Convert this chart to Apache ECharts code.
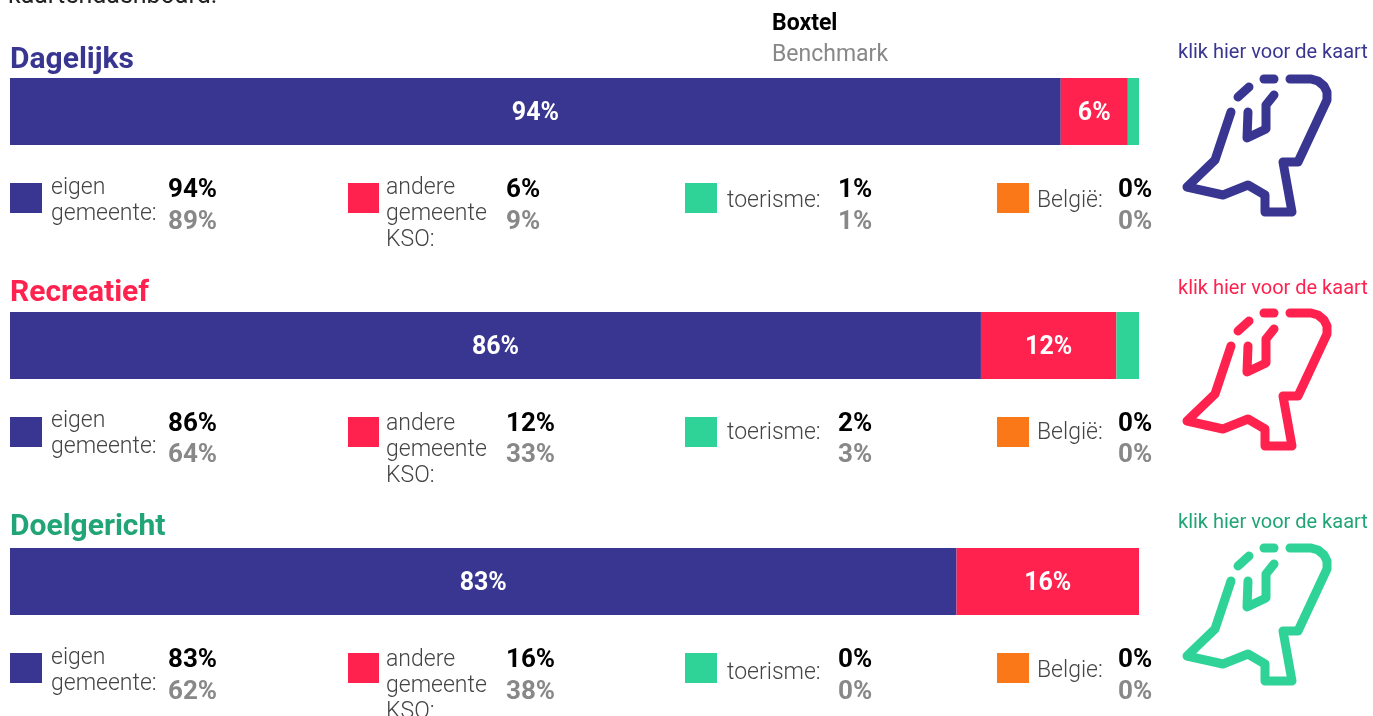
<!DOCTYPE html>
<html>
<head>
<meta charset="utf-8">
<title>Verplaatsingen</title>
<script src="https://cdn.jsdelivr.net/npm/echarts@6/dist/echarts.min.js"></script>
<style>
  html, body { margin: 0; padding: 0; background: #fff; }
  #main { width: 1373px; height: 716px; }
</style>
</head>
<body>
<div id="main"></div>
<script>
const segments = ["eigen gemeente", "andere gemeente KSO", "toerisme", "België"];
const rowNames = ["Dagelijks", "Recreatief", "Doelgericht"];

// boxtel = bar + black number, benchmark = grey number
const boxtelDagelijks = [94, 6, 1, 0];
const boxtelRecreatief = [86, 12, 2, 0];
const boxtelDoelgericht = [83, 16, 0, 0];
const benchDagelijks = [89, 9, 1, 0];
const benchRecreatief = [64, 33, 3, 0];
const benchDoelgericht = [62, 38, 0, 0];

const boxtel = [boxtelDagelijks, boxtelRecreatief, boxtelDoelgericht];
const bench = [benchDagelijks, benchRecreatief, benchDoelgericht];

const colors = ["#393691", "#FF224F", "#2FD398", "#FB7819"];
const titleColors = ["#393691", "#FF224F", "#21A576"];
const iconColors = ["#393691", "#FF224F", "#2FD398"];

const font = "Roboto";
const barTops = [78, 312, 548];
const titleY = [60, 293, 527];
const klikY = [53, 289, 523];
const iconDy = [0, 234, 469];

// legend layout per row
const swatchY = [183, 417, 653];
const swatchX = [10, 348, 685, 997];
const swatchW = [32, 31, 32, 32];
const labelX = [51, 386, 727, 1037];
const valueX = [168, 506, 838, 1118];
const labelLines = [
  [["eigen", "gemeente:"], ["andere", "gemeente", "KSO:"], ["toerisme:"], ["België:"]],
  [["eigen", "gemeente:"], ["andere", "gemeente", "KSO:"], ["toerisme:"], ["België:"]],
  [["eigen", "gemeente:"], ["andere", "gemeente", "KSO:"], ["toerisme:"], ["Belgie:"]]
];
const labelY = [
  [[188, 214], [188, 214, 240], [201], [201]],
  [[421, 447], [424, 450, 476], [433], [433]],
  [[658, 684], [660, 686, 712], [673], [671]]
];
const valueY = [[190, 222], [424, 455], [660, 692]];

// outline of the map icon
const iconLines = [
  [[1290, 79], [1311, 79], [1318, 81], [1324, 86], [1327, 92], [1327, 100], [1298, 162], [1283, 162], [1292, 212], [1265, 212], [1265, 195], [1248, 185], [1223, 195], [1187, 187], [1215, 160], [1231, 112]],
  [[1248, 112], [1247, 138], [1266, 129], [1266, 105], [1274, 95]],
  [[1238, 97], [1249, 87]],
  [[1264, 79], [1274, 79]]
];

function text(x, y, str, size, weight, color) {
  return {
    type: "text",
    x: x,
    y: y,
    style: {
      text: str,
      font: weight + " " + size + "px " + font,
      fill: color,
      verticalAlign: "middle",
      align: "left"
    }
  };
}

let grid = [];
let xAxis = [];
let yAxis = [];
let series = [];
let graphic = [];

graphic.push(text(8, -3, "kaartendashboard.", 25, 400, "#222"));
graphic.push(text(772, 24, "Boxtel", 23, 700, "#000"));
graphic.push(text(772, 55, "Benchmark", 23, 400, "#888"));

rowNames.forEach(function (name, r) {
  let total = boxtel[r].reduce(function (a, b) { return a + b; }, 0);
  grid.push({ left: 10, width: 1129, top: barTops[r], height: 67 });
  xAxis.push({ type: "value", gridIndex: r, min: 0, max: total, show: false });
  yAxis.push({ type: "category", gridIndex: r, data: [name], show: false });

  segments.forEach(function (seg, s) {
    series.push({
      name: seg,
      type: "bar",
      stack: name,
      xAxisIndex: r,
      yAxisIndex: r,
      barWidth: "100%",
      silent: true,
      itemStyle: { color: colors[s] },
      label: {
        show: boxtel[r][s] >= 5,
        position: "inside",
        offset: [0, 2],
        formatter: "{c}%",
        color: "#fff",
        fontFamily: font,
        fontWeight: 700,
        fontSize: 25
      },
      data: [boxtel[r][s]]
    });

    graphic.push({
      type: "rect",
      shape: { x: swatchX[s], y: swatchY[r], width: swatchW[s], height: 30 },
      style: { fill: colors[s] }
    });
    labelLines[r][s].forEach(function (line, i) {
      graphic.push(text(labelX[s], labelY[r][s][i], line, 23, 300, "#444"));
    });
    graphic.push(text(valueX[s], valueY[r][0], boxtel[r][s] + "%", 26, 700, "#000"));
    graphic.push(text(valueX[s], valueY[r][1], bench[r][s] + "%", 26, 700, "#888"));
  });

  graphic.push(text(10, titleY[r], name, 30, 700, titleColors[r]));
  graphic.push(text(1178, klikY[r], "klik hier voor de kaart", 20, 400, titleColors[r]));

  iconLines.forEach(function (pts) {
    graphic.push({
      type: "polyline",
      y: iconDy[r],
      shape: { points: pts },
      style: { stroke: iconColors[r], lineWidth: 9, fill: null, lineCap: "round", lineJoin: "round" }
    });
  });
});

let myChart = echarts.init(document.getElementById("main"), null, { renderer: "canvas" });
myChart.setOption({
  animation: false,
  grid: grid,
  xAxis: xAxis,
  yAxis: yAxis,
  series: series,
  graphic: graphic
});
window.addEventListener("resize", myChart.resize);
</script>
</body>
</html>
